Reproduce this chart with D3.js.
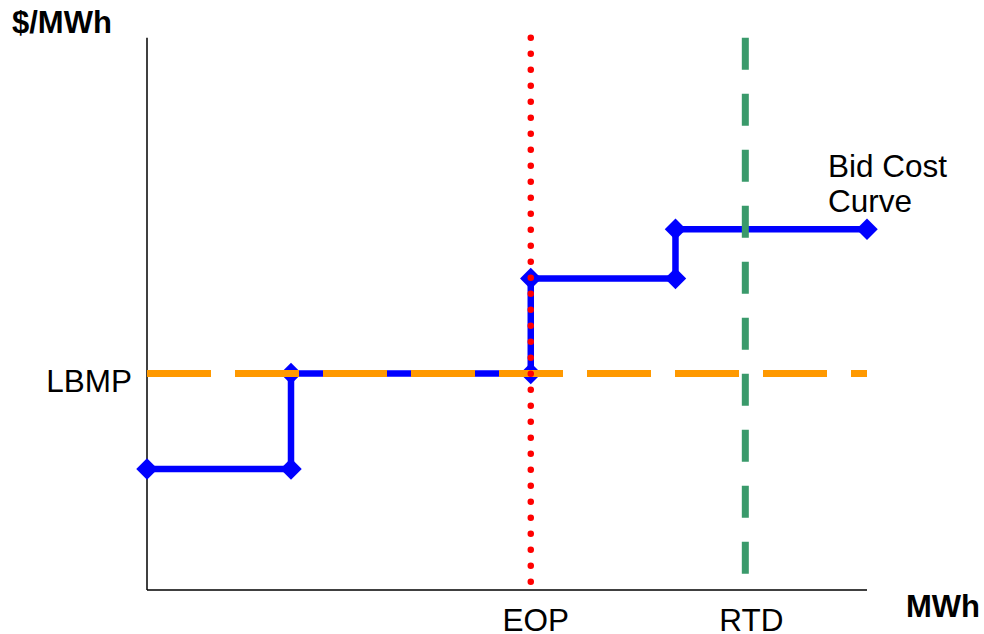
<!DOCTYPE html>
<html>
<head>
<meta charset="utf-8">
<script src="https://cdn.jsdelivr.net/npm/d3@7"></script>
<style>
  html, body { margin: 0; padding: 0; background: #fff; }
  text { font-family: "Liberation Sans", Arial, sans-serif; fill: #000; }
</style>
</head>
<body>
<svg id="chart" width="984" height="634"></svg>
<script>
// ---- Data ----
const bidCurveX = [0, 20, 20, 53.3, 53.3, 73.4, 73.4, 100];
const bidCurveY = [21.9, 21.9, 39.2, 39.2, 56.4, 56.4, 65.3, 65.3];
const lbmpValue = 39.2;
const eopValue = 53.3;
const rtdValue = 83.1;
const xLabels = ["EOP", "RTD"];
const yLabels = ["LBMP"];
const curveLabel = ["Bid Cost", "Curve"];
const axisTitles = ["$/MWh", "MWh"];

const svg = d3.select("#chart");
const x = d3.scaleLinear().domain([0, 100]).range([147, 867]);
const y = d3.scaleLinear().domain([0, 100]).range([590, 37.7]);

// axes (plain lines)
svg.append("line").attr("x1", x(0)).attr("x2", x(0)).attr("y1", y(100)).attr("y2", y(0))
  .attr("stroke", "#000").attr("stroke-width", 1.5);
svg.append("line").attr("x1", x(0)).attr("x2", x(100)).attr("y1", y(0)).attr("y2", y(0))
  .attr("stroke", "#000").attr("stroke-width", 1.5);

// bid cost curve
const pts = bidCurveX.map((d, i) => [d, bidCurveY[i]]);
svg.append("path")
  .attr("d", d3.line().x(d => x(d[0])).y(d => y(d[1]))(pts))
  .attr("fill", "none").attr("stroke", "#0000ff").attr("stroke-width", 6.5)
  .attr("stroke-linejoin", "miter");
svg.selectAll("path.diamond").data(pts).enter().append("path")
  .attr("class", "diamond")
  .attr("d", d3.symbol().type(d3.symbolSquare).size(230))
  .attr("transform", d => `translate(${x(d[0])},${y(d[1])}) rotate(45)`)
  .attr("fill", "#0000ff");

// LBMP dashed line
svg.append("line").attr("x1", x(0)).attr("x2", x(100)).attr("y1", y(lbmpValue)).attr("y2", y(lbmpValue))
  .attr("stroke", "#ff9900").attr("stroke-width", 7).attr("stroke-dasharray", "64,24");

// EOP dotted line
svg.append("line").attr("x1", x(eopValue)).attr("x2", x(eopValue)).attr("y1", y(100)).attr("y2", y(0))
  .attr("stroke", "#ff0000").attr("stroke-width", 6.5).attr("stroke-linecap", "round")
  .attr("stroke-dasharray", "0,16");

// RTD dashed line
svg.append("line").attr("x1", x(rtdValue)).attr("x2", x(rtdValue)).attr("y1", y(100)).attr("y2", y(0))
  .attr("stroke", "#3a9a6b").attr("stroke-width", 7).attr("stroke-dasharray", "32,24");

// texts
svg.append("text").attr("x", 12).attr("y", 33).attr("font-size", 31).attr("font-weight", "bold").text(axisTitles[0]);
svg.append("text").attr("x", 906).attr("y", 617).attr("font-size", 31).attr("font-weight", "bold").text(axisTitles[1]);
svg.append("text").attr("x", 132).attr("y", y(lbmpValue) + 19).attr("font-size", 31.5).attr("text-anchor", "end").text(yLabels[0]);
svg.append("text").attr("x", x(eopValue) + 5).attr("y", 631).attr("font-size", 31.5).attr("text-anchor", "middle").text(xLabels[0]);
svg.append("text").attr("x", x(rtdValue) + 6).attr("y", 631).attr("font-size", 31.5).attr("text-anchor", "middle").text(xLabels[1]);
svg.append("text").attr("x", 828).attr("y", 177).attr("font-size", 31.5).text(curveLabel[0]);
svg.append("text").attr("x", 828).attr("y", 212).attr("font-size", 31.5).text(curveLabel[1]);
</script>
</body>
</html>
